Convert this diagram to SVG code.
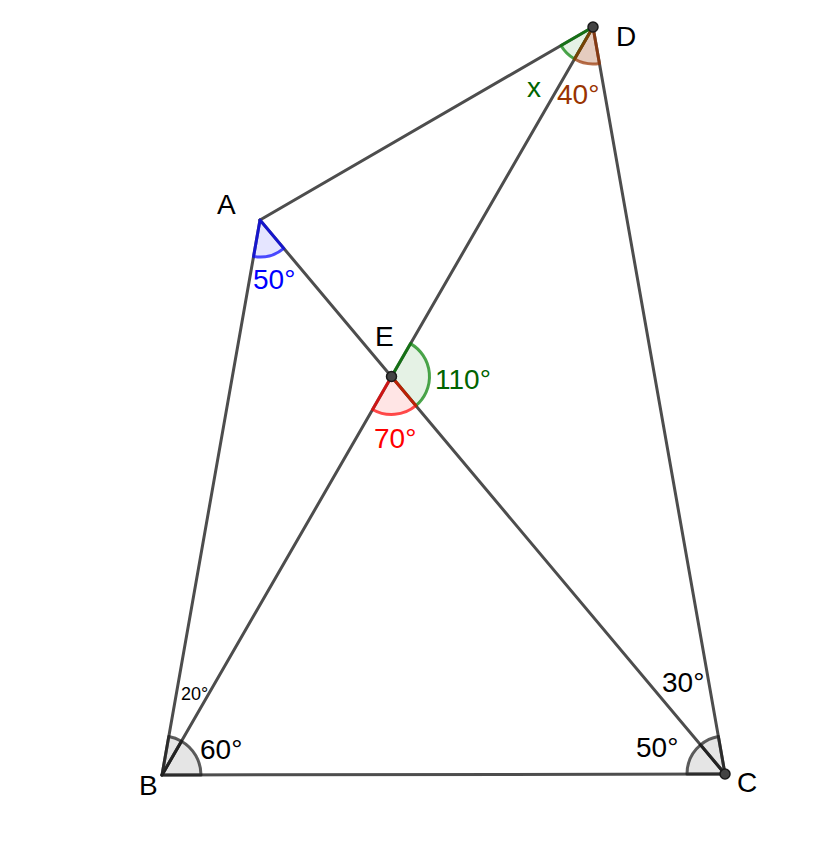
<svg xmlns="http://www.w3.org/2000/svg" width="833" height="843" viewBox="0 0 833 843">
<style>
.seg{stroke:#4d4d4d;stroke-width:3;fill:none;stroke-linecap:round}
.ang{stroke-width:3;stroke-linejoin:round}
.gray{fill:#999;fill-opacity:0.25;stroke:#1a1a1a;stroke-opacity:0.7}
.green{fill:#007f00;fill-opacity:0.1;stroke:#007f00;stroke-opacity:0.7}
.red{fill:#ff0000;fill-opacity:0.1;stroke:#ff0000;stroke-opacity:0.7}
.blue{fill:#0000ff;fill-opacity:0.1;stroke:#0000ff;stroke-opacity:0.7}
.brown{fill:#993300;fill-opacity:0.25;stroke:#993300;stroke-opacity:0.7}
.pt{fill:#444;stroke:#1a1a1a;stroke-width:1.5}
text{font-family:"Liberation Sans",Arial,sans-serif;font-size:28px}
.lbl{fill:#000}
</style>
<rect width="833" height="843" fill="#fff"/>
<g id="connectors">
<line class="seg" x1="260" y1="220" x2="593" y2="27"/>
<line class="seg" x1="593" y1="27" x2="725" y2="774"/>
<line class="seg" x1="162" y1="775" x2="725" y2="774"/>
<line class="seg" x1="260" y1="220" x2="162" y2="775"/>
<line class="seg" x1="260" y1="220" x2="725" y2="774"/>
<line class="seg" x1="162" y1="775" x2="593" y2="27"/>
</g>
<g id="angles">
<path class="ang gray" d="M162,775 L201,775 A39,39 0 0 0 181.46,741.21 Z"/>
<path class="ang gray" d="M162,775 L181.46,741.21 A39,39 0 0 0 168.78,736.59 Z"/>
<path class="ang gray" d="M725,774 L687,774 A38,38 0 0 1 700.58,744.89 Z"/>
<path class="ang gray" d="M725,774 L700.58,744.89 A38,38 0 0 1 718.39,736.58 Z"/>
<path class="ang blue" d="M260,220 L253.57,256.44 A37,37 0 0 0 283.79,248.34 Z"/>
<path class="ang green" d="M391.5,376.5 L410.48,343.58 A38,38 0 0 1 415.92,405.61 Z"/>
<path class="ang red" d="M391.5,376.5 L415.92,405.61 A38,38 0 0 1 372.54,409.43 Z"/>
<path class="ang green" d="M593,27 L560.99,45.55 A37,37 0 0 0 574.52,59.06 Z"/>
<path class="ang brown" d="M593,27 L574.52,59.06 A37,37 0 0 0 599.44,63.43 Z"/>
</g>
<g id="node-A"><text class="lbl" x="217" y="214">A</text></g>
<g id="node-B"><text class="lbl" x="139" y="795">B</text></g>
<g id="node-C"><circle class="pt" cx="725" cy="774" r="5"/><text class="lbl" x="737" y="792">C</text></g>
<g id="node-D"><circle class="pt" cx="593" cy="27" r="5"/><text class="lbl" x="616" y="46">D</text></g>
<g id="node-E"><circle class="pt" cx="391.5" cy="376.5" r="5"/><text class="lbl" x="375" y="346">E</text></g>
<g id="labels">
<text x="253" y="289" fill="#0000ff">50°</text>
<text x="527" y="97" fill="#006400">x</text>
<text x="557" y="104" fill="#993300">40°</text>
<text x="435" y="389" fill="#006400">110°</text>
<text x="374" y="448" fill="#ff0000">70°</text>
<text x="181" y="700" fill="#000" style="font-size:18px">20°</text>
<text x="200" y="759" fill="#000">60°</text>
<text x="636" y="757" fill="#000">50°</text>
<text x="662" y="692" fill="#000">30°</text>
</g>
</svg>
